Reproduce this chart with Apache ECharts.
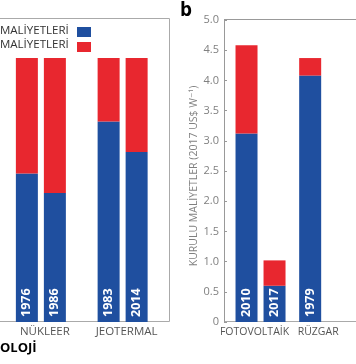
<!DOCTYPE html>
<html><head><meta charset="utf-8">
<script src="https://cdn.jsdelivr.net/npm/echarts@6/dist/echarts.min.js"></script>
<style>html,body{margin:0;padding:0;background:#fff}#c{width:356px;height:364px}</style>
</head><body><div id="c"></div>
<script>
// Panel a (share of cost, visible part)
const leftCategories = ['NÜKLEER', 'JEOTERMAL'];
const leftYearsFirst = ['1976', '1983'];
const leftYearsSecond = ['1986', '2014'];
const leftHardwareFirst = [0.563, 0.760];
const leftSoftFirst = [0.437, 0.240];
const leftHardwareSecond = [0.489, 0.644];
const leftSoftSecond = [0.511, 0.356];

// Panel b (installed cost, 2017 US$ per W)
const rightCategories = ['FOTOVOLTAİK', 'RÜZGAR'];
const rightYearsFirst = ['2010', '1979'];
const rightYearsSecond = ['2017', null];
const rightHardwareFirst = [3.12, 4.08];
const rightSoftFirst = [1.46, 0.29];
const rightHardwareSecond = [0.60, null];
const rightSoftSecond = [0.42, null];
const rightTicks = ['0', '0.5', '1.0', '1.5', '2.0', '2.5', '3.0', '3.5', '4.0', '4.5', '5.0'];

const legendLabels = ['MALİYETLERİ', 'MALİYETLERİ'];

const BLUE = '#1f4f9f';
const RED = '#e8272f';
const FONT = "'Open Sans', 'DejaVu Sans', sans-serif";

function yearLabel(years) {
  return {
    show: true, position: 'insideBottom', distance: 5, rotate: 90,
    align: 'left', verticalAlign: 'middle',
    color: '#fff', fontWeight: 'bold', fontSize: 12.5, fontFamily: FONT,
    formatter: p => years[p.dataIndex] || ''
  };
}
function bar(name, data, stack, color, axis, label) {
  const s = { name, type: 'bar', data, stack, barWidth: 22, barGap: '27.3%',
    xAxisIndex: axis, yAxisIndex: axis, itemStyle: { color }, silent: true };
  if (label) s.label = label;
  return s;
}

const chart = echarts.init(document.getElementById('c'), null, { renderer: 'canvas' });
chart.setOption({
  animation: false,
  grid: [
    { left: -3.2, width: 166.7, top: 18.5, bottom: 42 },
    { left: 228.7, width: 166.7, top: 20, bottom: 42 }
  ],
  xAxis: [
    { type: 'category', gridIndex: 0, data: leftCategories,
      axisLine: { show: false }, axisTick: { show: false },
      axisLabel: { interval: 0, color: '#555', fontSize: 11.5, fontFamily: FONT, margin: 4, padding: [0, 0, 0, 8] } },
    { type: 'category', gridIndex: 1, data: rightCategories,
      axisLine: { show: false }, axisTick: { show: false },
      axisLabel: { interval: 0, hideOverlap: false, color: '#555', fontSize: 10.5, fontFamily: FONT, margin: 5, padding: [0, 12, 0, 0] } }
  ],
  yAxis: [
    { type: 'value', gridIndex: 0, min: 0, max: 1.15, show: false },
    { type: 'value', gridIndex: 1, min: 0, max: 5, interval: 0.5, offset: 4.7,
      axisLine: { show: true, lineStyle: { color: '#999', width: 1 } },
      axisTick: { show: true, inside: true, length: 3, lineStyle: { color: '#999' } },
      splitLine: { show: false },
      axisLabel: { color: '#808080', fontSize: 11, fontFamily: FONT, margin: 5,
        formatter: (v) => rightTicks[Math.round(v * 2)] },
      name: 'KURULU MALİYETLER (2017 US$ W⁻¹)', nameLocation: 'middle', nameRotate: 90,
      nameGap: 21, nameTextStyle: { color: '#808080', fontSize: 10.5, fontFamily: FONT, padding: [0, 10, 0, 0] } }
  ],
  series: [
    bar('hwA', leftHardwareFirst, 'L1', BLUE, 0, yearLabel(leftYearsFirst)),
    bar('softA', leftSoftFirst, 'L1', RED, 0),
    bar('hwB', leftHardwareSecond, 'L2', BLUE, 0, yearLabel(leftYearsSecond)),
    bar('softB', leftSoftSecond, 'L2', RED, 0),
    bar('hwC', rightHardwareFirst, 'R1', BLUE, 1, yearLabel(rightYearsFirst)),
    bar('softC', rightSoftFirst, 'R1', RED, 1),
    bar('hwD', rightHardwareSecond, 'R2', BLUE, 1, yearLabel(rightYearsSecond)),
    bar('softD', rightSoftSecond, 'R2', RED, 1)
  ],
  graphic: [
    { type: 'polyline', shape: { points: [[-5, 18.5], [169.5, 18.5], [169.5, 321.5], [-5, 321.5]] },
      style: { stroke: '#aaa', fill: null, lineWidth: 1 }, silent: true },
    { type: 'polyline', shape: { points: [[224, 19.5], [360, 19.5]] },
      style: { stroke: '#999', fill: null, lineWidth: 1 }, silent: true },
    { type: 'polyline', shape: { points: [[224, 321.5], [360, 321.5]] },
      style: { stroke: '#aaa', fill: null, lineWidth: 1 }, silent: true },
    { type: 'text', left: 0, top: 25, style: { text: legendLabels[0], fill: '#333', font: '11.5px ' + FONT } },
    { type: 'text', left: 0, top: 39, style: { text: legendLabels[1], fill: '#333', font: '11.5px ' + FONT } },
    { type: 'rect', shape: { x: 77, y: 27, width: 14, height: 10 }, style: { fill: BLUE } },
    { type: 'rect', shape: { x: 77, y: 42, width: 14, height: 10 }, style: { fill: RED } },
    { type: 'text', left: 180, top: 1, style: { text: 'b', fill: '#000', font: 'bold 19px ' + FONT } },
    { type: 'text', left: 0, top: 342, style: { text: 'OLOJİ', fill: '#000', font: 'bold 13px ' + FONT } }
  ]
});
</script></body></html>
